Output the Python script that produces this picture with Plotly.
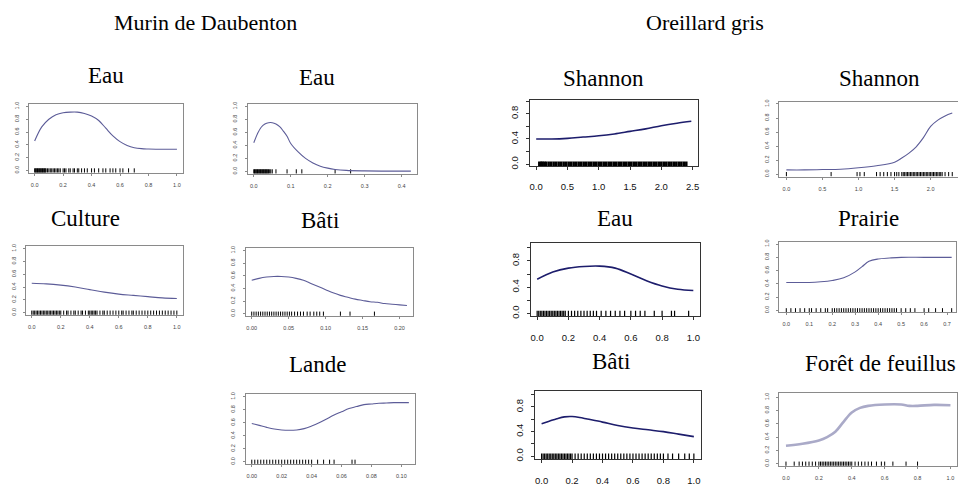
import plotly.graph_objects as go

W, H = 966, 488

# ---------------- data ----------------
# Murin de Daubenton
md_eau1_x = [0, 0.05, 0.1, 0.15, 0.2, 0.25, 0.3, 0.35, 0.4, 0.45, 0.5, 0.55, 0.6, 0.65, 0.7, 0.75, 0.8, 0.9, 1.0]
md_eau1_y = [0.46, 0.68, 0.80, 0.87, 0.90, 0.91, 0.91, 0.89, 0.85, 0.78, 0.66, 0.54, 0.45, 0.39, 0.355, 0.34, 0.335, 0.33, 0.33]
md_eau1_rug = [0.0, 0.005, 0.01, 0.015, 0.02, 0.025, 0.03, 0.035, 0.04, 0.045, 0.05, 0.055, 0.06, 0.065, 0.07, 0.075,
               0.08, 0.09, 0.1, 0.11, 0.12, 0.13, 0.14, 0.15, 0.16, 0.17, 0.18, 0.2, 0.21, 0.22, 0.24, 0.25, 0.27,
               0.28, 0.3, 0.31, 0.33, 0.35, 0.37, 0.4, 0.42, 0.45, 0.48, 0.5, 0.53, 0.55, 0.57, 0.6, 0.62, 0.66, 0.7]

md_eau2_x = [0, 0.01, 0.02, 0.03, 0.04, 0.05, 0.06, 0.07, 0.08, 0.09, 0.10, 0.12, 0.14, 0.16, 0.18, 0.20, 0.22, 0.25, 0.30, 0.35, 0.40, 0.425]
md_eau2_y = [0.44, 0.58, 0.68, 0.73, 0.75, 0.75, 0.73, 0.69, 0.62, 0.54, 0.43, 0.30, 0.20, 0.13, 0.08, 0.05, 0.03, 0.015, 0.007, 0.004, 0.003, 0.003]
md_eau2_rug = [0.0, 0.002, 0.004, 0.006, 0.008, 0.01, 0.012, 0.014, 0.016, 0.018, 0.02, 0.022, 0.024, 0.026, 0.028,
               0.03, 0.032, 0.034, 0.036, 0.038, 0.04, 0.043, 0.046, 0.05, 0.06, 0.09, 0.115, 0.13, 0.22, 0.262]

md_cult_x = [0, 0.1, 0.2, 0.3, 0.4, 0.5, 0.6, 0.7, 0.8, 0.9, 1.0]
md_cult_y = [0.46, 0.45, 0.43, 0.40, 0.36, 0.32, 0.29, 0.27, 0.25, 0.23, 0.22]
md_cult_rug = [0.0, 0.01, 0.02, 0.03, 0.04, 0.05, 0.06, 0.07, 0.08, 0.09, 0.1, 0.11, 0.12, 0.13, 0.14, 0.15, 0.16,
               0.17, 0.18, 0.19, 0.2, 0.22, 0.24, 0.25, 0.27, 0.29, 0.3, 0.32, 0.34, 0.35, 0.37, 0.39, 0.4, 0.41,
               0.42, 0.43, 0.44, 0.45, 0.47, 0.49, 0.5, 0.52, 0.54, 0.56, 0.58, 0.6, 0.62, 0.63, 0.65, 0.67, 0.69,
               0.7, 0.72, 0.74, 0.76, 0.78, 0.8, 0.82, 0.84, 0.86, 0.88, 0.9, 0.92, 0.94, 0.96, 0.98, 1.0]

md_bati_x = [0, 0.01, 0.02, 0.03, 0.04, 0.05, 0.06, 0.07, 0.08, 0.09, 0.10, 0.11, 0.12, 0.13, 0.14, 0.15, 0.16, 0.17, 0.18, 0.19, 0.20, 0.21]
md_bati_y = [0.53, 0.56, 0.58, 0.59, 0.59, 0.58, 0.56, 0.53, 0.48, 0.43, 0.38, 0.33, 0.29, 0.26, 0.23, 0.21, 0.19, 0.18, 0.16, 0.15, 0.14, 0.13]
md_bati_rug = [0.0, 0.003, 0.006, 0.009, 0.012, 0.015, 0.018, 0.021, 0.024, 0.027, 0.03, 0.033, 0.036, 0.039, 0.042,
               0.045, 0.048, 0.051, 0.054, 0.058, 0.062, 0.066, 0.07, 0.075, 0.079, 0.084, 0.088, 0.092, 0.097,
               0.12, 0.133, 0.166]

md_lande_x = [0, 0.005, 0.01, 0.015, 0.02, 0.025, 0.03, 0.035, 0.04, 0.045, 0.05, 0.055, 0.06, 0.065, 0.07, 0.075, 0.08, 0.085, 0.09, 0.095, 0.1, 0.105]
md_lande_y = [0.59, 0.56, 0.53, 0.505, 0.49, 0.485, 0.49, 0.51, 0.55, 0.60, 0.66, 0.72, 0.77, 0.82, 0.85, 0.88, 0.89, 0.90, 0.905, 0.91, 0.91, 0.91]
md_lande_rug = [0.0, 0.002, 0.004, 0.006, 0.008, 0.01, 0.012, 0.014, 0.016, 0.018, 0.02, 0.022, 0.024, 0.026, 0.028,
                0.03, 0.032, 0.034, 0.036, 0.038, 0.04, 0.044, 0.048, 0.052, 0.055, 0.067, 0.069]

# Oreillard gris
og_sha1_x = [0, 0.25, 0.5, 0.75, 1.0, 1.25, 1.5, 1.75, 2.0, 2.25, 2.48]
og_sha1_y = [0.40, 0.40, 0.41, 0.43, 0.45, 0.48, 0.52, 0.56, 0.61, 0.65, 0.68]
og_sha1_rug = [0.05, 0.08, 0.1, 0.13, 0.16, 0.2, 0.24, 0.28, 0.32, 0.36, 0.4, 0.44, 0.48, 0.52, 0.56, 0.6, 0.64, 0.68,
               0.72, 0.76, 0.8, 0.84, 0.88, 0.92, 0.96, 1.0, 1.04, 1.08, 1.12, 1.16, 1.2, 1.24, 1.28, 1.32, 1.36,
               1.4, 1.44, 1.48, 1.52, 1.56, 1.6, 1.64, 1.68, 1.72, 1.76, 1.8, 1.84, 1.88, 1.92, 1.96, 2.0, 2.04,
               2.08, 2.12, 2.16, 2.2, 2.24, 2.28, 2.32, 2.36, 2.4]

og_eau_x = [0, 0.1, 0.2, 0.3, 0.4, 0.5, 0.6, 0.7, 0.8, 0.9, 1.0]
og_eau_y = [0.52, 0.63, 0.69, 0.715, 0.72, 0.69, 0.60, 0.50, 0.42, 0.37, 0.35]
og_eau_rug = [0.0, 0.01, 0.02, 0.03, 0.04, 0.05, 0.06, 0.07, 0.08, 0.09, 0.1, 0.11, 0.12, 0.13, 0.14, 0.15, 0.16,
              0.17, 0.18, 0.2, 0.22, 0.24, 0.26, 0.28, 0.3, 0.32, 0.34, 0.36, 0.38, 0.41, 0.44, 0.47, 0.5, 0.53,
              0.56, 0.6, 0.63, 0.66, 0.69, 0.75, 0.8, 0.86, 0.88, 0.97]

og_bati_x = [0, 0.05, 0.1, 0.15, 0.2, 0.25, 0.3, 0.4, 0.5, 0.6, 0.7, 0.8, 0.9, 1.0]
og_bati_y = [0.53, 0.57, 0.61, 0.64, 0.645, 0.63, 0.605, 0.555, 0.50, 0.46, 0.43, 0.40, 0.36, 0.32]
og_bati_rug = [0.0, 0.01, 0.02, 0.03, 0.04, 0.05, 0.06, 0.07, 0.08, 0.09, 0.1, 0.11, 0.12, 0.13, 0.14, 0.15, 0.16,
               0.17, 0.18, 0.19, 0.2, 0.22, 0.24, 0.26, 0.28, 0.3, 0.32, 0.34, 0.36, 0.38, 0.4, 0.42, 0.44, 0.46,
               0.48, 0.5, 0.52, 0.54, 0.56, 0.58, 0.6, 0.62, 0.64, 0.66, 0.68, 0.7, 0.72, 0.74, 0.76, 0.78, 0.8,
               0.83, 0.86, 0.9, 0.94, 0.97, 1.0]

og_sha2_x = [0, 0.25, 0.5, 0.75, 1.0, 1.25, 1.5, 1.6, 1.7, 1.8, 1.9, 2.0, 2.1, 2.2, 2.3]
og_sha2_y = [0.06, 0.06, 0.065, 0.07, 0.09, 0.12, 0.17, 0.23, 0.30, 0.39, 0.52, 0.68, 0.77, 0.83, 0.87]
og_sha2_rug = [0.0, 0.62, 0.98, 1.02, 1.08, 1.25, 1.3, 1.35, 1.4, 1.45, 1.5, 1.53, 1.56, 1.6, 1.62, 1.64, 1.66, 1.68,
               1.7, 1.72, 1.74, 1.76, 1.78, 1.8, 1.82, 1.84, 1.86, 1.88, 1.9, 1.92, 1.94, 1.96, 1.98, 2.0, 2.02,
               2.04, 2.06, 2.08, 2.1, 2.12, 2.14, 2.16, 2.2, 2.25, 2.3]

og_prai_x = [0, 0.05, 0.1, 0.15, 0.2, 0.25, 0.3, 0.33, 0.36, 0.4, 0.45, 0.5, 0.6, 0.72]
og_prai_y = [0.42, 0.42, 0.42, 0.43, 0.45, 0.49, 0.58, 0.66, 0.74, 0.775, 0.79, 0.80, 0.80, 0.80]
og_prai_rug = [0.0, 0.02, 0.04, 0.06, 0.08, 0.1, 0.11, 0.13, 0.15, 0.17, 0.18, 0.2, 0.21, 0.22, 0.23, 0.24, 0.25,
               0.26, 0.27, 0.28, 0.29, 0.3, 0.31, 0.32, 0.33, 0.34, 0.35, 0.36, 0.37, 0.38, 0.39, 0.4, 0.41, 0.42,
               0.43, 0.44, 0.45, 0.46, 0.47, 0.48, 0.5, 0.52, 0.54, 0.56, 0.6, 0.62, 0.65, 0.68, 0.72]

og_foret_x = [0, 0.1, 0.2, 0.25, 0.3, 0.35, 0.4, 0.45, 0.5, 0.6, 0.7, 0.75, 0.8, 0.9, 1.0]
og_foret_y = [0.27, 0.30, 0.35, 0.40, 0.48, 0.63, 0.77, 0.84, 0.87, 0.89, 0.89, 0.87, 0.87, 0.885, 0.88]
og_foret_rug = [0.0, 0.05, 0.08, 0.1, 0.12, 0.14, 0.16, 0.18, 0.2, 0.21, 0.22, 0.23, 0.24, 0.25, 0.26, 0.27, 0.28,
                0.29, 0.3, 0.31, 0.32, 0.33, 0.34, 0.35, 0.36, 0.37, 0.38, 0.39, 0.4, 0.42, 0.44, 0.46, 0.48, 0.5,
                0.52, 0.55, 0.58, 0.6, 0.65, 0.73, 0.8]

# tick labels
ticks_01_02 = ["0.0", "0.2", "0.4", "0.6", "0.8", "1.0"]
ticks_eau2 = ["0.0", "0.1", "0.2", "0.3", "0.4"]
ticks_bati_md = ["0.00", "0.05", "0.10", "0.15", "0.20"]
ticks_lande = ["0.00", "0.02", "0.04", "0.06", "0.08", "0.10"]
ticks_sha1 = ["0.0", "0.5", "1.0", "1.5", "2.0", "2.5"]
ticks_sha2 = ["0.0", "0.5", "1.0", "1.5", "2.0"]
ticks_prai = ["0.0", "0.1", "0.2", "0.3", "0.4", "0.5", "0.6", "0.7"]
ytick_full = ["0.0", "0.2", "0.4", "0.6", "0.8", "1.0"]
ytick_sparse = ["0.0", "", "0.4", "", "0.8", ""]

group_titles = ["Murin de Daubenton", "Oreillard gris"]

# ---------------- layout spec (positions / styles) ----------------
SMALL = dict(font=5.5, fcol="#444444", lcol="#8a8a8a", tlen=2, sx=4, sy=5, curve="#5c5c98", cw=1.1, rug=3, rugw=1)
BIG = dict(font=9.5, fcol="#111111", lcol="#333333", tlen=3, sx=9, sy=4, curve="#1d1d6c", cw=1.6, rug=4, rugw=1.2)
BIG_SOLID = dict(BIG, rugw=2.5)
FOREST = dict(SMALL, curve="#aaaac8", cw=2.6)

panels = [
    dict(title="Eau", tpos=(98, 65), box=(21, 175, 94, 164), xr=[-0.04, 1.04], yr=[-0.04, 1.04],
         x=md_eau1_x, y=md_eau1_y, rug=md_eau1_rug, xt=ticks_01_02, yt=ytick_full, st=SMALL),
    dict(title="Eau", tpos=(310, 67), box=(240, 410, 94, 165), xr=[-0.017, 0.442], yr=[-0.04, 1.04],
         x=md_eau2_x, y=md_eau2_y, rug=md_eau2_rug, xt=ticks_eau2, yt=ytick_full, st=SMALL),
    dict(title="Culture", tpos=(78, 210), box=(18, 175, 238, 308), xr=[-0.04, 1.04], yr=[-0.04, 1.04],
         x=md_cult_x, y=md_cult_y, rug=md_cult_rug, xt=ticks_01_02, yt=ytick_full, st=SMALL),
    dict(title="Bâti", tpos=(313, 212), box=(238, 406, 240, 309), xr=[-0.0084, 0.2184], yr=[-0.04, 1.04],
         x=md_bati_x, y=md_bati_y, rug=md_bati_rug, xt=ticks_bati_md, yt=ytick_full, st=SMALL),
    dict(title="Lande", tpos=(310, 358), box=(238, 408, 388, 459), xr=[-0.0042, 0.1092], yr=[-0.04, 1.04],
         x=md_lande_x, y=md_lande_y, rug=md_lande_rug, xt=ticks_lande, yt=ytick_full, st=SMALL),
    dict(title="Shannon", tpos=(597, 68), box=(523, 691, 90, 157), xr=[-0.1, 2.58], yr=[-0.03, 1.02],
         x=og_sha1_x, y=og_sha1_y, rug=og_sha1_rug, xt=ticks_sha1, yt=ytick_sparse, st=BIG_SOLID),
    dict(title="Eau", tpos=(608, 210), box=(524, 693, 235, 309), xr=[-0.04, 1.04], yr=[-0.04, 1.07],
         x=og_eau_x, y=og_eau_y, rug=og_eau_rug, xt=ticks_01_02, yt=ytick_sparse, st=BIG),
    dict(title="Bâti", tpos=(604, 355), box=(528, 694, 385, 454), xr=[-0.044, 1.044], yr=[-0.05, 1.055],
         x=og_bati_x, y=og_bati_y, rug=og_bati_rug, xt=ticks_01_02, yt=ytick_sparse, st=BIG),
    dict(title="Shannon", tpos=(873, 68), box=(773, 952, 92, 168), xr=[-0.097, 2.38], yr=[-0.04, 1.03],
         x=og_sha2_x, y=og_sha2_y, rug=og_sha2_rug, xt=ticks_sha2, yt=ytick_full, st=SMALL),
    dict(title="Prairie", tpos=(862, 210), box=(773, 950, 234, 305), xr=[-0.03, 0.739], yr=[-0.03, 1.03],
         x=og_prai_x, y=og_prai_y, rug=og_prai_rug, xt=ticks_prai, yt=ytick_full, st=SMALL),
    dict(title="Forêt de feuillus", tpos=(874, 357), box=(773, 951, 387, 461), xr=[-0.04, 1.04], yr=[-0.04, 1.06],
         x=og_foret_x, y=og_foret_y, rug=og_foret_rug, xt=ticks_01_02, yt=ytick_full, st=FOREST),
]
group_pos = [(198, 12), (698, 12)]

fig = go.Figure()
annotations = []
layout = {}
for i, p in enumerate(panels, start=1):
    st = p["st"]
    xa = "x" if i == 1 else f"x{i}"
    ya = "y" if i == 1 else f"y{i}"
    l, r, t, b = p["box"]
    tv_x = [float(s) for s in p["xt"]]
    tv_y = [0.0, 0.2, 0.4, 0.6, 0.8, 1.0]
    common = dict(showline=True, mirror=True, linecolor=st["lcol"], linewidth=1, ticks="outside",
                  ticklen=st["tlen"], tickwidth=1, tickcolor=st["lcol"], showgrid=False, zeroline=False,
                  tickfont=dict(family="Liberation Sans, Arial, sans-serif", size=st["font"], color=st["fcol"]))
    layout[f"xaxis{'' if i == 1 else i}"] = dict(common, domain=[l / W, r / W], range=p["xr"], anchor=ya,
                                                 tickvals=tv_x, ticktext=p["xt"], ticklabelstandoff=st["sx"])
    layout[f"yaxis{'' if i == 1 else i}"] = dict(common, domain=[1 - b / H, 1 - t / H], range=p["yr"], anchor=xa,
                                                 tickvals=tv_y, ticktext=p["yt"], tickangle=-90,
                                                 ticklabelstandoff=st["sy"])
    fig.add_trace(go.Scatter(x=p["rug"], y=[0.0] * len(p["rug"]), mode="markers", xaxis=xa, yaxis=ya,
                             marker=dict(symbol="line-ns", size=st["rug"],
                                         line=dict(width=st["rugw"], color="black")),
                             hoverinfo="skip", showlegend=False))
    fig.add_trace(go.Scatter(x=p["x"], y=p["y"], mode="lines", xaxis=xa, yaxis=ya,
                             line=dict(color=st["curve"], width=st["cw"], shape="spline", smoothing=1.0),
                             showlegend=False))
    cx, cy = p["tpos"]
    annotations.append(dict(text=p["title"], x=cx / W, y=1 - cy / H, xref="paper", yref="paper",
                            xanchor="center", yanchor="middle", showarrow=False,
                            font=dict(family="Liberation Serif, Times New Roman, serif", size=23, color="black")))

for txt, (cx, cy) in zip(group_titles, group_pos):
    annotations.append(dict(text=txt, x=cx / W, y=1 - cy / H, xref="paper", yref="paper",
                            xanchor="center", yanchor="middle", showarrow=False,
                            font=dict(family="Liberation Serif, Times New Roman, serif", size=22, color="black")))

fig.update_layout(width=W, height=H, margin=dict(l=0, r=0, t=0, b=0), paper_bgcolor="white",
                  plot_bgcolor="white", annotations=annotations, **layout)
fig.write_html("out.html")
